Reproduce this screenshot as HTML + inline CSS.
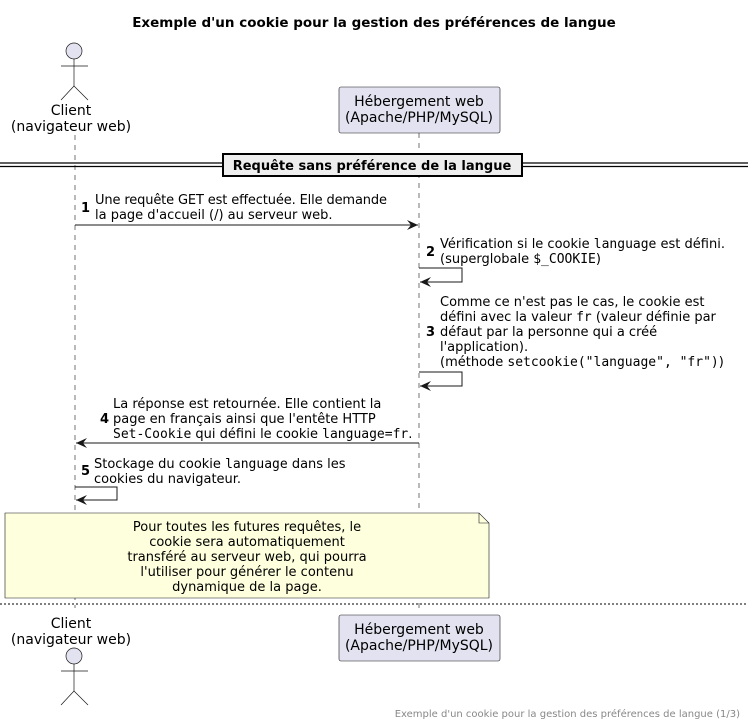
<!DOCTYPE html>
<html><head><meta charset="utf-8"><style>
html,body{margin:0;padding:0;background:#fff;}
svg{display:block;}
text{font-family:"DejaVu Sans","Liberation Sans",sans-serif;fill:#000;}
.m{font-family:"DejaVu Sans Mono","Liberation Mono",monospace;}
</style></head><body>
<svg width="748" height="726" viewBox="0 0 748 726" xmlns="http://www.w3.org/2000/svg">
<defs>
<marker id="a" markerWidth="12" markerHeight="10" refX="11" refY="5" orient="auto" markerUnits="userSpaceOnUse">
<path d="M0,0 L11,5 L0,10 L4,5 Z" fill="#181818"/>
</marker>
</defs>
<text x="374" y="27" font-size="13.5" font-weight="bold" text-anchor="middle">Exemple d'un cookie pour la gestion des préférences de langue</text>

<line x1="75" y1="135" x2="75" y2="608" stroke="#181818" stroke-width="0.6" stroke-dasharray="5,5"/>
<line x1="419" y1="133" x2="419" y2="608" stroke="#181818" stroke-width="0.6" stroke-dasharray="5,5"/>

<circle cx="74" cy="51" r="8" fill="#E2E2F0" stroke="#181818" stroke-width="0.7"/>
<line x1="74" y1="59" x2="74" y2="86" stroke="#181818" stroke-width="0.7"/>
<line x1="61" y1="66" x2="88" y2="66" stroke="#181818" stroke-width="0.7"/>
<line x1="74" y1="86" x2="61" y2="100" stroke="#181818" stroke-width="0.7"/>
<line x1="74" y1="86" x2="88" y2="100" stroke="#181818" stroke-width="0.7"/>
<text x="71" y="115" font-size="14" text-anchor="middle">Client</text>
<text x="71" y="131" font-size="14" text-anchor="middle">(navigateur web)</text>

<rect x="339" y="87" width="161" height="46" rx="2" fill="#E2E2F0" stroke="#181818" stroke-width="0.6"/>
<text x="419" y="106" font-size="14" text-anchor="middle">Hébergement web</text>
<text x="419" y="122" font-size="14" text-anchor="middle">(Apache/PHP/MySQL)</text>

<line x1="0" y1="163" x2="748" y2="163" stroke="#000" stroke-width="1.2"/>
<line x1="0" y1="166.5" x2="748" y2="166.5" stroke="#000" stroke-width="1.2"/>
<rect x="223" y="154" width="299" height="22" fill="#EEEEEE" stroke="#000" stroke-width="2"/>
<text x="372" y="170" font-size="13" font-weight="bold" text-anchor="middle">Requête sans préférence de la langue</text>

<text x="81" y="212" font-size="13" font-weight="bold">1</text>
<text x="95" y="204" font-size="13" textLength="292" lengthAdjust="spacing">Une requête GET est effectuée. Elle demande</text>
<text x="95" y="219" font-size="13">la page d'accueil (/) au serveur web.</text>
<line x1="75" y1="225" x2="418" y2="225" stroke="#181818" stroke-width="1" marker-end="url(#a)"/>

<text x="426" y="256" font-size="13" font-weight="bold">2</text>
<text x="440" y="248" font-size="13">Vérification si le cookie <tspan class="m">language</tspan> est défini.</text>
<text x="440" y="263" font-size="13">(superglobale <tspan class="m">$_COOKIE</tspan>)</text>
<polyline points="419,268 462,268 462,282 420,282" fill="none" stroke="#181818" stroke-width="1" marker-end="url(#a)"/>

<text x="426" y="336" font-size="13" font-weight="bold">3</text>
<text x="440" y="306" font-size="13">Comme ce n'est pas le cas, le cookie est</text>
<text x="440" y="321" font-size="13">défini avec la valeur <tspan class="m">fr</tspan> (valeur définie par</text>
<text x="440" y="336" font-size="13">défaut par la personne qui a créé</text>
<text x="440" y="351" font-size="13">l'application).</text>
<text x="440" y="366" font-size="13">(méthode <tspan class="m">setcookie("language", "fr")</tspan>)</text>
<polyline points="419,372 462,372 462,386 420,386" fill="none" stroke="#181818" stroke-width="1" marker-end="url(#a)"/>

<text x="100" y="423" font-size="13" font-weight="bold">4</text>
<text x="113" y="408" font-size="13">La réponse est retournée. Elle contient la</text>
<text x="113" y="423" font-size="13">page en français ainsi que l'entête HTTP</text>
<text x="113" y="438" font-size="13"><tspan class="m">Set-Cookie</tspan> qui défini le cookie <tspan class="m">language=fr</tspan>.</text>
<line x1="419" y1="443" x2="76" y2="443" stroke="#181818" stroke-width="1" marker-end="url(#a)"/>

<text x="81" y="475" font-size="13" font-weight="bold">5</text>
<text x="94" y="468" font-size="13">Stockage du cookie <tspan class="m">language</tspan> dans les</text>
<text x="94" y="483" font-size="13">cookies du navigateur.</text>
<polyline points="75,487 117,487 117,500 76,500" fill="none" stroke="#181818" stroke-width="1" marker-end="url(#a)"/>

<path d="M5,513 L479,513 L489,523 L489,598 L5,598 Z" fill="#FEFFDD" stroke="#181818" stroke-width="0.6"/>
<path d="M479,513 L479,523 L489,523" fill="none" stroke="#181818" stroke-width="0.6"/>
<text x="247" y="531" font-size="13" text-anchor="middle">Pour toutes les futures requêtes, le</text>
<text x="247" y="546" font-size="13" text-anchor="middle">cookie sera automatiquement</text>
<text x="247" y="561" font-size="13" text-anchor="middle">transféré au serveur web, qui pourra</text>
<text x="247" y="576" font-size="13" text-anchor="middle">l'utiliser pour générer le contenu</text>
<text x="247" y="591" font-size="13" text-anchor="middle">dynamique de la page.</text>

<line x1="0" y1="604" x2="748" y2="604" stroke="#000" stroke-width="1" stroke-dasharray="2,2"/>

<text x="71" y="628" font-size="14" text-anchor="middle">Client</text>
<text x="71" y="644" font-size="14" text-anchor="middle">(navigateur web)</text>
<circle cx="74" cy="656" r="8" fill="#E2E2F0" stroke="#181818" stroke-width="0.7"/>
<line x1="74" y1="664" x2="74" y2="691" stroke="#181818" stroke-width="0.7"/>
<line x1="61" y1="671" x2="88" y2="671" stroke="#181818" stroke-width="0.7"/>
<line x1="74" y1="691" x2="61" y2="705" stroke="#181818" stroke-width="0.7"/>
<line x1="74" y1="691" x2="88" y2="705" stroke="#181818" stroke-width="0.7"/>

<rect x="339" y="615" width="161" height="46" rx="2" fill="#E2E2F0" stroke="#181818" stroke-width="0.6"/>
<text x="419" y="634" font-size="14" text-anchor="middle">Hébergement web</text>
<text x="419" y="650" font-size="14" text-anchor="middle">(Apache/PHP/MySQL)</text>

<text x="740" y="717" font-size="10" style="fill:#888" text-anchor="end">Exemple d'un cookie pour la gestion des préférences de langue (1/3)</text>
</svg>
</body></html>
